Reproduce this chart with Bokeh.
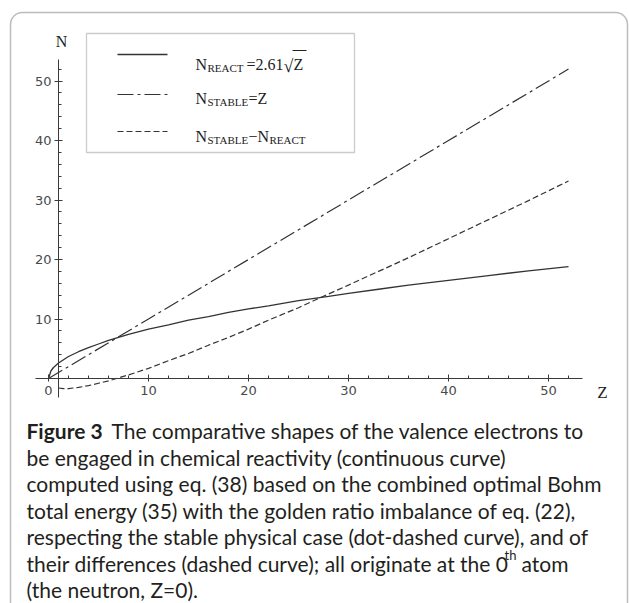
from bokeh.plotting import figure
from bokeh.models import FixedTicker, BoxAnnotation, Range1d
from bokeh.core.properties import value
from bokeh.embed import file_html
from bokeh.resources import INLINE

# ---------------- data ----------------
z_react = [0, 0.25, 0.5, 1, 2, 3, 4, 5, 6, 8, 10, 12, 14, 16, 18, 20, 22, 25, 28, 30, 33, 36, 40, 44, 48, 52]
n_react = [0, 1.3, 1.85, 2.6, 3.7, 4.5, 5.2, 5.8, 6.4, 7.4, 8.3, 9.0, 9.8, 10.4, 11.1, 11.7, 12.2,
           13.1, 13.8, 14.3, 15.0, 15.7, 16.5, 17.3, 18.1, 18.8]
z_stable = [0, 10, 20, 30, 40, 52]
n_stable = [0, 10, 20, 30, 40, 52]
z_diff = [1, 1.5, 2, 3, 4, 5, 6, 8, 10, 12, 14, 16, 18, 20, 22, 25, 28, 30, 33, 36, 40, 44, 48, 52]
n_diff = [-1.6, -1.7, -1.7, -1.5, -1.2, -0.8, -0.4, 0.6, 1.7, 3.0, 4.2, 5.6, 6.9, 8.3, 9.8,
          11.9, 14.2, 15.7, 18.0, 20.3, 23.5, 26.7, 29.9, 33.2]

x_major = [0, 10, 20, 30, 40, 50]
y_major = [10, 20, 30, 40, 50]
x_label = "Z"
y_label = "N"

caption_bold = "Figure 3"
caption_lines = [
    "The comparative shapes of the valence electrons to",
    "be engaged in chemical reactivity (continuous curve)",
    "computed using eq. (38) based on the combined optimal Bohm",
    "total energy (35) with the golden ratio imbalance of eq. (22),",
    "respecting the stable physical case (dot-dashed curve), and of",
    "their differences (dashed curve); all originate at the 0",
    "(the neutron, Z=0).",
]
caption_sup = "th"
caption_tail = "atom"

# ---------------- layout ----------------
W, H = 629, 603
OFF = 0
X0, SX = 48.0, 10.0      # page px of Z=0, px per unit
Y0, SY = 378.0, 5.95     # page px of N=0, px per unit


def X(px):
    return (px - X0) / SX


def Y(py):
    return (Y0 - py) / SY


p = figure(width=W, height=H, output_backend="svg", toolbar_location=None,
           x_range=Range1d(X(OFF), X(OFF + W)), y_range=Range1d(Y(OFF + H), Y(OFF)),
           min_border=0, min_border_left=0, min_border_right=0, min_border_top=0,
           min_border_bottom=0)
p.outline_line_color = None
p.xgrid.visible = False
p.ygrid.visible = False
p.background_fill_color = "white"
p.border_fill_color = "white"

axis_col = "#3a3a3a"
lab_col = "#4a4a4a"

x_minor = [v for v in range(2, 54, 2) if v % 10]
y_minor = [v for v in range(2, 54, 2) if v % 10]

xa = p.xaxis[0]
xa.fixed_location = 0
xa.bounds = (-1.3, 53.4)
xa.ticker = FixedTicker(ticks=x_major, minor_ticks=x_minor)
xa.axis_line_color = axis_col
xa.major_tick_line_color = axis_col
xa.minor_tick_line_color = axis_col
xa.major_tick_in = 4
xa.major_tick_out = 3
xa.minor_tick_in = 3
xa.minor_tick_out = 0
xa.major_label_standoff = 4
xa.major_label_text_font = "DejaVu Sans"
xa.major_label_text_font_size = "13px"
xa.major_label_text_color = lab_col

ya = p.yaxis[0]
ya.fixed_location = 1
ya.bounds = (-3.2, 53.6)
ya.ticker = FixedTicker(ticks=y_major, minor_ticks=y_minor)
ya.axis_line_color = axis_col
ya.major_tick_line_color = axis_col
ya.minor_tick_line_color = axis_col
ya.major_tick_in = 4
ya.major_tick_out = 4
ya.minor_tick_in = 3
ya.minor_tick_out = 0
ya.major_label_standoff = 3
ya.major_label_text_font = "DejaVu Sans"
ya.major_label_text_font_size = "13px"
ya.major_label_text_color = lab_col

# ---------------- curves ----------------
cc = "#333333"
st_react = dict(line_color=cc, line_width=1.3)
st_stable = dict(line_color=cc, line_width=1.2, line_dash="16 4 3 4")
st_diff = dict(line_color=cc, line_width=1.2, line_dash="6 3")

p.line(z_react, n_react, **st_react)
p.line(z_stable, n_stable, **st_stable)
p.line(z_diff, n_diff, **st_diff)

# axis names
serif = value("Liberation Serif")
p.text(x=[X(61)], y=[Y(41)], text=[y_label], text_font=serif, text_font_size="16px",
       text_align="center", text_baseline="alphabetic", text_color="#222")
p.text(x=[X(602)], y=[Y(392)], text=[x_label], text_font=serif, text_font_size="17px",
       text_align="center", text_baseline="alphabetic", text_color="#222")

# ---------------- legend ----------------
p.add_layout(BoxAnnotation(left=X(86), right=X(354), top=Y(33), bottom=Y(152),
                           fill_alpha=0, line_color="#555", line_width=1.3))
p.line([X(117), X(167)], [Y(54), Y(54)], **st_react)
p.line([X(117), X(167)], [Y(94), Y(94)], **st_stable)
p.line([X(117), X(167)], [Y(131), Y(131)], **st_diff)

big = dict(text_font=serif, text_font_size="16px", text_baseline="alphabetic", text_color="#222")
small = dict(text_font=serif, text_font_size="11px", text_baseline="alphabetic", text_color="#222")
# row 1
p.text(x=[X(195)], y=[Y(64)], text=["N"], **big)
p.text(x=[X(207)], y=[Y(67)], text=["REACT"], **small)
p.text(x=[X(246)], y=[Y(64)], text=["=2.61"], **big)
p.text(x=[X(283)], y=[Y(65)], text=["\u221a"], text_font=serif, text_font_size="18px",
       text_baseline="alphabetic", text_color="#222")
p.text(x=[X(293)], y=[Y(64)], text=["Z"], **big)
p.segment(x0=[X(292)], y0=[Y(50)], x1=[X(306)], y1=[Y(50)], line_color="#222", line_width=1)
# row 2
p.text(x=[X(195)], y=[Y(98)], text=["N"], **big)
p.text(x=[X(207)], y=[Y(101)], text=["STABLE"], **small)
p.text(x=[X(248)], y=[Y(98)], text=["=Z"], **big)
# row 3
p.text(x=[X(195)], y=[Y(136)], text=["N"], **big)
p.text(x=[X(207)], y=[Y(139)], text=["STABLE"], **small)
p.text(x=[X(248)], y=[Y(136)], text=["\u2212N"], **big)
p.text(x=[X(269)], y=[Y(139)], text=["REACT"], **small)

# ---------------- frame & caption ----------------
p.add_layout(BoxAnnotation(left=X(10), right=X(627), top=Y(12), bottom=Y(640),
                           fill_alpha=0, line_color="#222", line_width=1.5, border_radius=12))

cap_font = value("Lato")
cap_col = "#231f20"
base = [430 + 26.5 * i for i in range(len(caption_lines))]
cap = dict(text_font=cap_font, text_font_size="21px", text_baseline="alphabetic", text_color=cap_col)
p.text(x=[X(26)], y=[Y(base[0])], text=[caption_bold], text_font_style="bold", **cap)
p.text(x=[X(111)], y=[Y(base[0])], text=[caption_lines[0]], **cap)
p.text(x=[X(26)] * (len(caption_lines) - 1), y=[Y(b) for b in base[1:]],
       text=caption_lines[1:], **cap)
p.text(x=[X(504)], y=[Y(base[5] - 8)], text=[caption_sup], text_font=cap_font,
       text_font_size="13px", text_baseline="alphabetic", text_color=cap_col)
p.text(x=[X(521)], y=[Y(base[5])], text=[caption_tail], **cap)

open("out.html", "w").write(file_html(p, INLINE))
